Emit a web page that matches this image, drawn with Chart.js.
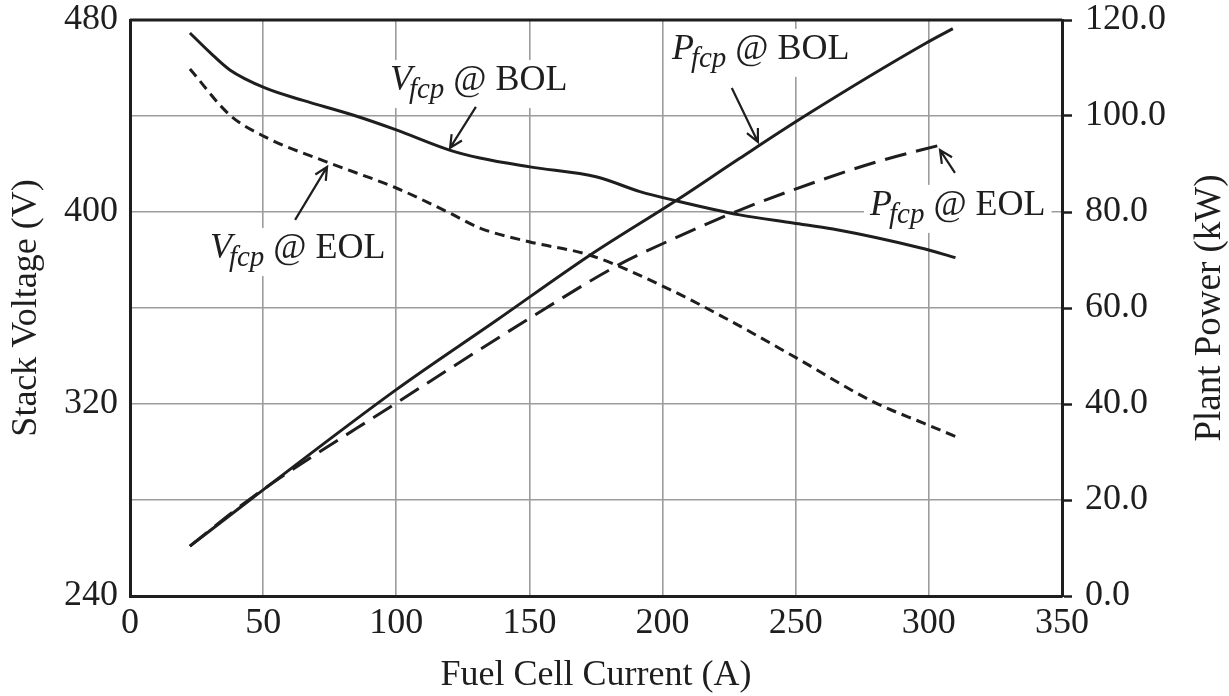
<!DOCTYPE html>
<html>
<head>
<meta charset="utf-8">
<script src="https://cdn.jsdelivr.net/npm/chart.js@4"></script>
<style>
html, body { margin: 0; padding: 0; background: #fff; }
#wrap { width: 1229px; height: 696px; }
</style>
</head>
<body>
<div id="wrap"><canvas id="graph1"></canvas></div>
<script>
// values
const currentTicks = [0, 50, 100, 150, 200, 250, 300, 350];
const voltageTicks = [240, 320, 400, 480];
const powerTicks = [0, 20, 40, 60, 80, 100, 120];

const vBolCurrent = [22.5, 30, 37.5, 50.7, 65, 83.7, 100, 120, 131.4, 150.2, 175.4, 191.5, 205.4, 229, 249, 264, 297, 310];
const vBolVoltage = [474.6, 466.5, 459.2, 451.7, 446.5, 440.4, 434.2, 425.8, 422.5, 418.8, 414.6, 408.5, 404.6, 398.8, 395.4, 392.9, 385, 381];

const vEolCurrent = [22.5, 37.5, 50.7, 74, 100, 120, 131.4, 150.2, 172.7, 201.6, 224, 249, 279, 298, 310];
const vEolVoltage = [459.6, 440.4, 431.3, 420.8, 410, 399.6, 393.3, 387.5, 382, 368.3, 355.5, 340, 321, 312, 306.5];

const pBolCurrent = [22.5, 45, 100, 137.8, 172.7, 205.4, 229, 254, 299, 309];
const pBolPower = [10.4, 20, 43, 57.5, 71, 82.5, 91.2, 100.2, 115.2, 118.2];

const pEolCurrent = [22.5, 46, 100, 150.2, 182.9, 201.6, 229, 249, 279, 306];
const pEolPower = [10.4, 20.6, 40.2, 57.9, 68.8, 73.8, 80.4, 84.6, 90.2, 94.2];

const ink = '#1e1e1e';
const serif = '"Liberation Serif", "Times New Roman", serif';

function pts(xs, ys) {
    return xs.map((v, i) => ({ x: v, y: ys[i] }));
}

// curve labels, placed in (current, voltage) units
const notes = [
    { main: 'V', sub: 'fcp', rest: ' @ BOL', at: [97.6, 450.8], from: [129.9, 443.8], to: [120.2, 426.7] },
    { main: 'V', sub: 'fcp', rest: ' @ EOL', at: [30, 380.8], from: [62, 396.7], to: [74, 418.8] },
    { main: 'P', sub: 'fcp', rest: ' @ BOL', at: [203.5, 463.8], from: [226, 451.7], to: [235.8, 429.2] },
    { main: 'P', sub: 'fcp', rest: ' @ EOL', at: [277.9, 398.8], from: [309.8, 416.3], to: [304.2, 425.8] }
];

function measure(ctx, n) {
    ctx.font = 'italic 36px ' + serif;
    const w1 = ctx.measureText(n.main).width;
    ctx.font = 'italic 29px ' + serif;
    const w2 = ctx.measureText(n.sub).width;
    ctx.font = '36px ' + serif;
    const w3 = ctx.measureText(n.rest).width;
    return { w1: w1, w2: w2, w3: w3, total: w1 - 3 + w2 + w3 };
}

const notesPlugin = {
    id: 'notes',
    beforeDatasetsDraw(chart) {
        const { ctx, scales: { x, y } } = chart;
        ctx.save();
        notes.forEach(n => {
            const px = x.getPixelForValue(n.at[0]);
            const py = y.getPixelForValue(n.at[1]);
            const m = measure(ctx, n);
            ctx.fillStyle = '#fff';
            ctx.fillRect(px - 6, py - 30, m.total + 12, 48);
        });
        ctx.restore();
    },
    afterDatasetsDraw(chart) {
        const { ctx, scales: { x, y }, chartArea } = chart;
        ctx.save();
        // top edge of the frame
        ctx.strokeStyle = ink;
        ctx.lineWidth = 3;
        ctx.beginPath();
        ctx.moveTo(chartArea.left, chartArea.top);
        ctx.lineTo(chartArea.right, chartArea.top);
        ctx.stroke();

        ctx.fillStyle = ink;
        ctx.textBaseline = 'alphabetic';
        notes.forEach(n => {
            const px = x.getPixelForValue(n.at[0]);
            const py = y.getPixelForValue(n.at[1]);
            const m = measure(ctx, n);
            ctx.font = 'italic 36px ' + serif;
            ctx.fillText(n.main, px, py);
            ctx.font = 'italic 29px ' + serif;
            ctx.fillText(n.sub, px + m.w1 - 3, py + 8);
            ctx.font = '36px ' + serif;
            ctx.fillText(n.rest, px + m.w1 - 3 + m.w2, py);

            // arrow
            const x0 = x.getPixelForValue(n.from[0]), y0 = y.getPixelForValue(n.from[1]);
            const x1 = x.getPixelForValue(n.to[0]), y1 = y.getPixelForValue(n.to[1]);
            const ang = Math.atan2(y1 - y0, x1 - x0);
            ctx.lineWidth = 2.2;
            ctx.beginPath();
            ctx.moveTo(x0, y0);
            ctx.lineTo(x1, y1);
            ctx.moveTo(x1 - 14 * Math.cos(ang - 0.45), y1 - 14 * Math.sin(ang - 0.45));
            ctx.lineTo(x1, y1);
            ctx.lineTo(x1 - 14 * Math.cos(ang + 0.45), y1 - 14 * Math.sin(ang + 0.45));
            ctx.stroke();
        });

        // right axis title, reading bottom to top like the left one
        const r = chart.scales.y1;
        ctx.translate(r.right - 19, (chartArea.top + chartArea.bottom) / 2);
        ctx.rotate(-Math.PI / 2);
        ctx.font = '37px ' + serif;
        ctx.textAlign = 'center';
        ctx.textBaseline = 'middle';
        ctx.fillText('Plant Power (kW)', 0, 0);
        ctx.restore();
    }
};

const graph = document.getElementById('graph1');

new Chart(graph, {
    type: 'line',
    data: {
        datasets: [
            {
                label: 'Vfcp @ BOL',
                data: pts(vBolCurrent, vBolVoltage),
                yAxisID: 'y',
                borderColor: ink,
                borderWidth: 3
            },
            {
                label: 'Vfcp @ EOL',
                data: pts(vEolCurrent, vEolVoltage),
                yAxisID: 'y',
                borderColor: ink,
                borderWidth: 3,
                borderDash: [10, 6]
            },
            {
                label: 'Pfcp @ BOL',
                data: pts(pBolCurrent, pBolPower),
                yAxisID: 'y1',
                borderColor: ink,
                borderWidth: 3
            },
            {
                label: 'Pfcp @ EOL',
                data: pts(pEolCurrent, pEolPower),
                yAxisID: 'y1',
                borderColor: ink,
                borderWidth: 3,
                borderDash: [22, 10]
            }
        ]
    },
    options: {
        responsive: true,
        maintainAspectRatio: false,
        animation: false,
        cubicInterpolationMode: 'monotone',
        elements: {
            point: { radius: 0 },
            line: { borderCapStyle: 'butt' }
        },
        layout: { padding: { top: 20, left: 0, right: 0, bottom: 0 } },
        plugins: {
            legend: { display: false },
            tooltip: { enabled: false }
        },
        scales: {
            x: {
                type: 'linear',
                min: 0,
                max: 350,
                afterBuildTicks: axis => { axis.ticks = currentTicks.map(v => ({ value: v })); },
                afterFit: axis => { axis.height = 100; },
                grid: { color: '#9c9c9c', lineWidth: 1.6, drawTicks: false },
                border: { display: true, color: ink, width: 3 },
                ticks: {
                    color: ink,
                    padding: 6,
                    maxRotation: 0,
                    autoSkip: false,
                    font: { family: serif, size: 36 }
                },
                title: {
                    display: true,
                    text: 'Fuel Cell Current (A)',
                    color: ink,
                    font: { family: serif, size: 36, lineHeight: 1 },
                    padding: { top: 0, bottom: 2 }
                }
            },
            y: {
                position: 'left',
                min: 240,
                max: 480,
                afterBuildTicks: axis => {
                    const t = [];
                    for (let v = 240; v <= 480; v += 40) t.push({ value: v });
                    axis.ticks = t;
                },
                afterFit: axis => { axis.width = 130; },
                grid: { color: '#9c9c9c', lineWidth: 1.6, drawTicks: false },
                border: { display: true, color: ink, width: 3 },
                ticks: {
                    color: ink,
                    padding: 12,
                    autoSkip: false,
                    font: { family: serif, size: 36, lineHeight: 0.44 },
                    callback: v => voltageTicks.includes(v) ? String(v) : ''
                },
                title: {
                    display: true,
                    text: 'Stack Voltage (V)',
                    color: ink,
                    font: { family: serif, size: 36, lineHeight: 1 },
                    padding: { top: 9, bottom: 0 }
                }
            },
            y1: {
                position: 'right',
                min: 0,
                max: 120,
                afterBuildTicks: axis => { axis.ticks = powerTicks.map(v => ({ value: v })); },
                afterFit: axis => { axis.width = 167; },
                grid: { drawOnChartArea: false, drawTicks: true, tickLength: 10, tickColor: ink, tickWidth: 2.5 },
                border: { display: true, color: ink, width: 3 },
                ticks: {
                    color: ink,
                    padding: 13,
                    autoSkip: false,
                    font: { family: serif, size: 36, lineHeight: 0.38 },
                    callback: v => Number(v).toFixed(1)
                },
                title: { display: false }
            }
        }
    },
    plugins: [notesPlugin]
});
</script>
</body>
</html>
